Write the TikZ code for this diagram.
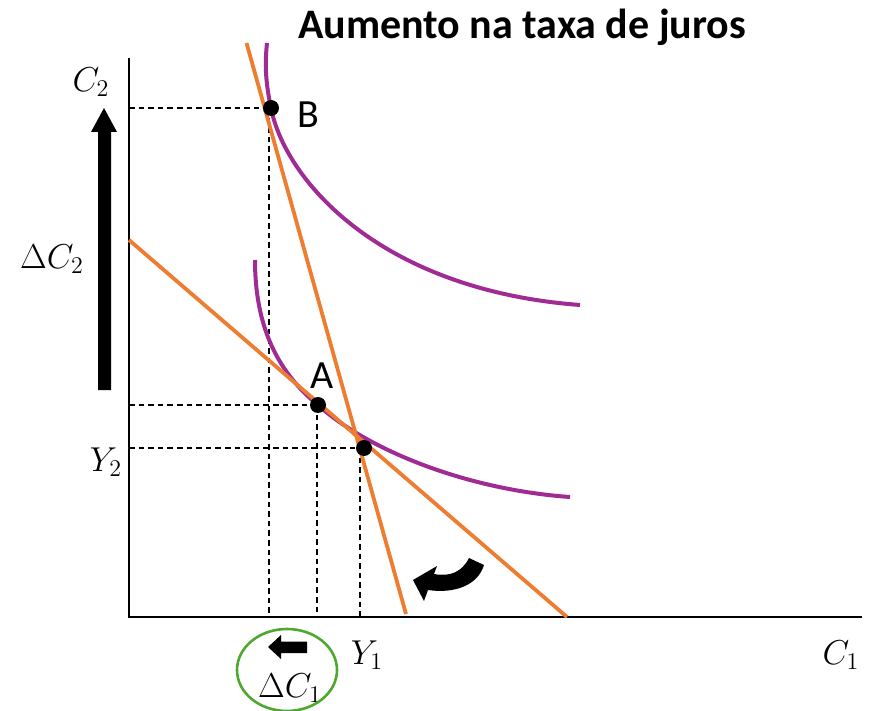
\documentclass[tikz,border=0pt]{standalone}
\usepackage[no-math]{fontspec}
\setmainfont{Carlito}
\begin{document}
\begin{tikzpicture}[x=0.5pt,y=-0.5pt]
\definecolor{orng}{RGB}{237,125,49}
\definecolor{purp}{RGB}{160,43,147}
\definecolor{grn}{RGB}{78,167,46}
\tikzset{
  axisline/.style={line width=1pt,black},
  budget/.style={line width=1.9pt,orng},
  indiff/.style={line width=2pt,purp},
  dashline/.style={line width=0.65pt,dash pattern=on 2.8pt off 2pt},
  dot/.style={circle,fill=black,inner sep=0pt,minimum size=8pt},
  mlab/.style={font=\fontsize{17}{20}\selectfont},
  plab/.style={font=\fontsize{20}{24}\selectfont},
  arrowfill/.style={fill=black,draw=none}
}
\useasboundingbox (0,0) rectangle (878,711);
% title
\node[font=\bfseries\fontsize{21}{25}\selectfont] (title) at (522,27) {Aumento na taxa de juros};
% axes
\coordinate (O) at (129,617);
\coordinate (ytop) at (129,58);
\coordinate (xend) at (862,617);
\draw[axisline] (ytop) -- (O) -- (xend);
% points
\coordinate (B) at (271,108);
\coordinate (A) at (318,405);
\coordinate (E) at (364,448);
% dashed guides
\coordinate (yB) at (129,108);
\coordinate (yA) at (129,405);
\coordinate (yE) at (129,448);
\coordinate (xB) at (269,617);
\coordinate (xA) at (317,617);
\coordinate (xE) at (360,617);
\coordinate (xBt) at (269,108);
\coordinate (xAt) at (317,405);
\coordinate (xEt) at (360,448);
\draw[dashline] (yB) -- (B);
\draw[dashline] (yA) -- (A);
\draw[dashline] (yE) -- (E);
\draw[dashline] (xBt) -- (xB);
\draw[dashline] (xAt) -- (xA);
\draw[dashline] (xEt) -- (xE);
% indifference curves
\draw[indiff] (267,43) .. controls (265,62) and (265,80) .. (B)
  .. controls (285,180) and (380,290) .. (580,305);
\draw[indiff] (255,260) .. controls (255,330) and (280,374) .. (A)
  .. controls (370,452) and (470,490) .. (570,497);
% budget lines
\coordinate (s1) at (246.5,43);
\coordinate (s2) at (406,614);
\coordinate (f1) at (129,240);
\coordinate (f2) at (567,617);
\draw[budget] (s1) -- (s2);
\draw[budget] (f1) -- (f2);
% dots on top
\node[dot] (dB) at (B) {};
\node[dot] (dA) at (A) {};
\node[dot] (dE) at (E) {};
% labels
\node[plab] (lB) at (308,115) {B};
\node[plab] (lA) at (322,376) {A};
\node[mlab] (lC2) at (91,82) {$C_2$};
\node[mlab] (ldC2) at (52,259) {$\Delta C_2$};
\node[mlab] (lY2) at (106,462) {$Y_2$};
\node[mlab] (lY1) at (367,655) {$Y_1$};
\node[mlab] (lC1) at (841,655) {$C_1$};
\node[mlab] (ldC1) at (290,688) {$\Delta C_1$};
% big up arrow
\fill[arrowfill] (98,390) -- (98,132) -- (91,132) -- (104,108) -- (117,132) -- (111,132) -- (111,390) -- cycle;
% green circle with small left arrow
\draw[grn,line width=1.3pt] (287,670) ellipse [x radius=50, y radius=41];
\fill[arrowfill] (307,641.5) -- (281,641.5) -- (281,635) -- (268,647) -- (281,659) -- (281,653) -- (307,653) -- cycle;
% curved rotation arrow
\fill[arrowfill] (469,558) .. controls (462,572) and (450,577) .. (434,574) -- (437,566) -- (413,580) -- (424,601) -- (428,590) .. controls (455,594) and (478,585) .. (484,565) -- cycle;
\end{tikzpicture}
\end{document}
